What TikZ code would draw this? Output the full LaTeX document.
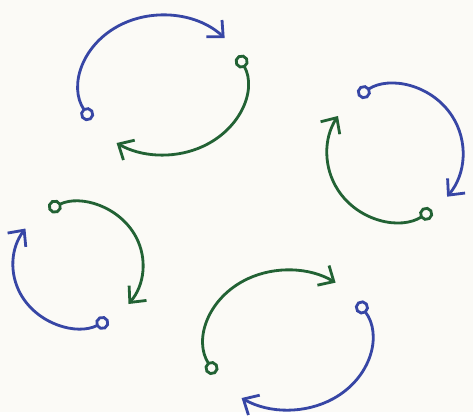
\documentclass[tikz,border=0pt]{standalone}
\usetikzlibrary{arrows.meta}
\definecolor{PenBlue}{RGB}{55, 70, 165}
\definecolor{PenGreen}{RGB}{34, 98, 52}
\definecolor{PaperWhite}{RGB}{251, 250, 246}

\begin{document}
\begin{tikzpicture}[
    x=0.02cm, y=0.02cm,
    line width=1.6pt, line cap=round,
    pen/.style={draw, {Circle[open, length=8pt, width=8pt]}-{Straight Barb[length=7pt, width=13pt]}},
    bluepen/.style={pen, PenBlue},
    greenpen/.style={pen, PenGreen}
  ]
    \fill[PaperWhite] (0,0) rectangle (473,412);
    % cycle centres
    \coordinate (topcycle) at (163,327);
    \coordinate (rightcycle) at (395,259);
    \coordinate (leftcycle) at (78,147);
    \coordinate (bottomcycle) at (288,72);

    % top left
    \draw[bluepen, shift={(topcycle)}] (210:83 and 70) arc[start angle=210, end angle=42, x radius=83, y radius=70];
    \draw[greenpen, shift={(topcycle)}] (25:83 and 70) arc[start angle=25, end angle=-124, x radius=83, y radius=70];

    % right
    \draw[bluepen, shift={(rightcycle)}] (123:68 and 68) arc[start angle=123, end angle=-40, x radius=68, y radius=68];
    \draw[greenpen, shift={(rightcycle)}] (-57:68 and 68) arc[start angle=-57, end angle=-213, x radius=68, y radius=68];

    % left
    \draw[greenpen, shift={(leftcycle)}] (117:65 and 62) arc[start angle=117, end angle=-39, x radius=65, y radius=62];
    \draw[bluepen, shift={(leftcycle)}] (-62:65 and 62) arc[start angle=-62, end angle=-216, x radius=65, y radius=62];

    % bottom
    \draw[greenpen, shift={(bottomcycle)}] (209:83 and 70) arc[start angle=209, end angle=55, x radius=83, y radius=70];
    \draw[bluepen, shift={(bottomcycle)}] (33:83 and 70) arc[start angle=33, end angle=-124, x radius=83, y radius=70];
  \end{tikzpicture}
\end{document}
